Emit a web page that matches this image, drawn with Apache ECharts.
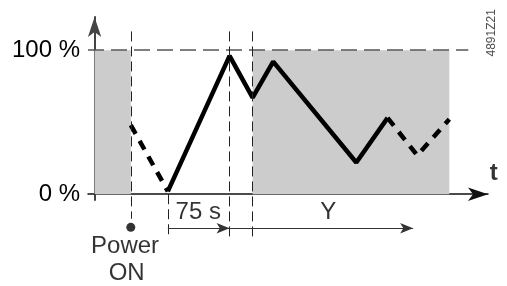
<!DOCTYPE html>
<html>
<head>
<meta charset="utf-8">
<script src="https://cdn.jsdelivr.net/npm/echarts@6/dist/echarts.min.js"></script>
<style>
  html, body { margin: 0; padding: 0; background: #fff; }
  #chart { width: 507px; height: 286px; }
</style>
</head>
<body>
<div id="chart"></div>
<script>
// time in s, opening in %
var startupFall = [[44, 48], [89, 2]];
var valveRun = [[89, 2], [164, 96], [192, 67], [217, 92], [318, 22], [356, 53]];
var valveLater = [[356, 53], [392, 27], [431, 52]];

// grey zones [from, to]
var greyZones = [[0, 44], [192, 431]];

// vertical guides: x, top, bottom
var guideX = [44, 89, 164, 192];
var guideTop = [113, 0, 113, 113];
var guideBottom = [-17, -30, -30, -30];

var yTicks = [0, 100];
var dimLevel = -23.6;
var dimStops = [89, 164, 387];
var powerOn = [[44, -23]];
var fullLineEnd = 454;

var notes = ['75 s', 'Y', 'Power', 'ON', 't', '4891Z21'];
var noteAt = [[126, -12.5], [284, -12.5], [37, -36], [39, -55], [485, 14.5], [483, 112]];

var font = "'Liberation Sans', Arial, sans-serif";

var el = document.getElementById('chart');
var myChart = echarts.init(el);

var guides = guideX.map(function (x, i) {
    return [{coord: [x, guideTop[i]]}, {coord: [x, guideBottom[i]]}];
});
var dims = [];
for (var i = 0; i < dimStops.length - 1; i++) {
    dims.push([{coord: [dimStops[i], dimLevel]}, {coord: [dimStops[i + 1], dimLevel]}]);
}
var noteData = notes.map(function (n, i) {
    var item = {name: n, value: noteAt[i]};
    if (n === 't') item.label = {fontWeight: 'bold'};
    if (n === '4891Z21') item.label = {rotate: 90, fontSize: 12, color: '#222'};
    return item;
});

var option = {
    animation: false,
    grid: [
        {left: 88, right: 19, top: 17, bottom: 86},
        // same scale, reaching down to the page foot (for the notes below the axis)
        {left: 88, right: 19, top: 17, bottom: 0}
    ],
    xAxis: [{
        type: 'value', min: -8, max: 478,
        axisLine: {
            onZero: true, symbol: ['none', 'arrow'], symbolSize: [10, 20],
            lineStyle: {color: '#111', width: 1.5}
        },
        axisTick: {show: false},
        axisLabel: {show: false},
        splitLine: {show: false}
    }, {
        type: 'value', min: -8, max: 478, gridIndex: 1, show: false
    }],
    yAxis: [{
        type: 'value', min: -4, max: 123,
        axisLine: {
            onZero: true, symbol: ['none', 'arrow'], symbolSize: [10, 20],
            lineStyle: {color: '#444', width: 2}
        },
        axisTick: {show: false},
        axisLabel: {
            customValues: yTicks, margin: 8,
            formatter: function (v) { return v + ' %'; },
            fontFamily: font, fontSize: 24, color: '#000'
        },
        splitLine: {show: false}
    }, {
        type: 'value', min: -63.7, max: 123, gridIndex: 1, show: false
    }],
    series: [
        {
            type: 'line', data: [], z: 1, silent: true,
            markArea: {
                silent: true,
                itemStyle: {color: '#cccccc'},
                data: greyZones.map(function (z) {
                    return [{coord: [z[0], 0]}, {coord: [z[1], 100]}];
                })
            }
        },
        {
            type: 'line', data: [], z: 2, silent: true, clip: false,
            markLine: {
                silent: true, symbol: 'none', label: {show: false},
                lineStyle: {color: '#555', width: 1.5, type: [16, 7]},
                data: [[{coord: [-8, 100]}, {coord: [fullLineEnd, 100]}]]
            }
        },
        {
            type: 'line', data: [], z: 3, silent: true, clip: false,
            xAxisIndex: 1, yAxisIndex: 1,
            markLine: {
                silent: true, symbol: 'none', label: {show: false},
                lineStyle: {color: '#222', width: 1, type: [10, 5]},
                data: guides
            }
        },
        {
            type: 'line', data: [], z: 3, silent: true, clip: false,
            xAxisIndex: 1, yAxisIndex: 1,
            markLine: {
                silent: true, symbol: ['none', 'arrow'], symbolSize: [8, 13],
                label: {show: false},
                lineStyle: {color: '#333', width: 1.2, type: 'solid'},
                data: dims
            }
        },
        {
            type: 'line', data: startupFall, z: 4, clip: false,
            symbol: 'none', lineStyle: {color: '#000', width: 4.5, type: [10, 8]}
        },
        {
            type: 'line', data: valveRun, z: 4, clip: false,
            symbol: 'none', lineStyle: {color: '#000', width: 4.5}
        },
        {
            type: 'line', data: valveLater, z: 4, clip: false,
            symbol: 'none', lineStyle: {color: '#000', width: 4.5, type: [10, 8]}
        },
        {
            type: 'scatter', data: powerOn, z: 5, clip: false,
            xAxisIndex: 1, yAxisIndex: 1,
            symbolSize: 9, itemStyle: {color: '#000'}
        },
        {
            type: 'scatter', data: noteData, z: 5, clip: false,
            xAxisIndex: 1, yAxisIndex: 1,
            symbolSize: 0,
            label: {
                show: true, position: 'inside', formatter: '{b}',
                fontFamily: font, fontSize: 24, color: '#000'
            }
        }
    ]
};
myChart.setOption(option);
</script>
</body>
</html>
